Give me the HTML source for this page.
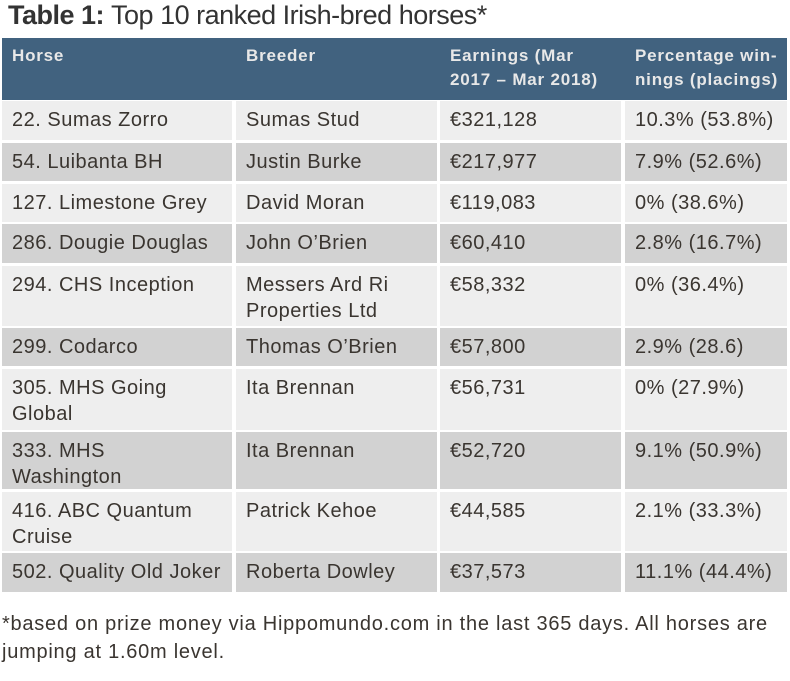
<!DOCTYPE html>
<html><head><meta charset="utf-8"><style>
body{margin:0;width:790px;height:681px;background:#fff;font-family:"Liberation Sans",sans-serif;position:relative;overflow:hidden}
.c{position:absolute;box-sizing:border-box;padding:6px 10px;font-size:20px;letter-spacing:0.5px;color:#3a3530;line-height:26px;white-space:nowrap}
.h{background:#41627f;color:#e8e8e8;font-weight:bold;font-size:17px;letter-spacing:0.8px;line-height:24px;padding-top:6px}
.w{background:#eeeeee}.g{background:#d2d2d2}
.t{position:absolute;left:8px;top:0px;font-size:27px;font-weight:bold;color:#333;letter-spacing:-0.5px}
.f{position:absolute;left:2px;top:610px;font-size:20px;letter-spacing:0.75px;color:#3a3530;line-height:28px}
</style></head><body>
<div class="t">Table 1: <span style="font-weight:normal">Top 10 ranked Irish-bred horses*</span></div>
<div id="tb"></div>
<div class="f">*based on prize money via Hippomundo.com in the last 365 days. All horses are<br>jumping at 1.60m level.</div>
<script>
var cols=[[2,232],[236,437],[440,621],[625,787]];
var rows=[[38,100,'h',['Horse','Breeder','Earnings (Mar<br>2017 – Mar 2018)','Percentage win-<br>nings (placings)']],
[101,140,'w',['22. Sumas Zorro','Sumas Stud','€321,128','10.3% (53.8%)']],
[143,181,'g',['54. Luibanta BH','Justin Burke','€217,977','7.9% (52.6%)']],
[184,222,'w',['127. Limestone Grey','David Moran','€119,083','0% (38.6%)']],
[224,263,'g',['286. Dougie Douglas','John O’Brien','€60,410','2.8% (16.7%)']],
[266,326,'w',['294. CHS Inception','Messers Ard Ri<br>Properties Ltd','€58,332','0% (36.4%)']],
[328,366,'g',['299. Codarco','Thomas O’Brien','€57,800','2.9% (28.6)']],
[369,430,'w',['305. MHS Going<br>Global','Ita Brennan','€56,731','0% (27.9%)']],
[432,489,'g',['333. MHS<br>Washington','Ita Brennan','€52,720','9.1% (50.9%)']],
[492,551,'w',['416. ABC Quantum<br>Cruise','Patrick Kehoe','€44,585','2.1% (33.3%)']],
[553,592,'g',['502. Quality Old Joker','Roberta Dowley','€37,573','11.1% (44.4%)']]];
var h='';
rows.forEach(function(r){cols.forEach(function(c,i){
var w=c[1]-c[0];if(r[2]=='h'&&i<3)w+=4;
h+='<div class="c '+r[2]+'" style="left:'+c[0]+'px;top:'+r[0]+'px;width:'+w+'px;height:'+(r[1]-r[0])+'px">'+r[3][i]+'</div>';});});
document.getElementById('tb').innerHTML=h;
</script>
</body></html>
